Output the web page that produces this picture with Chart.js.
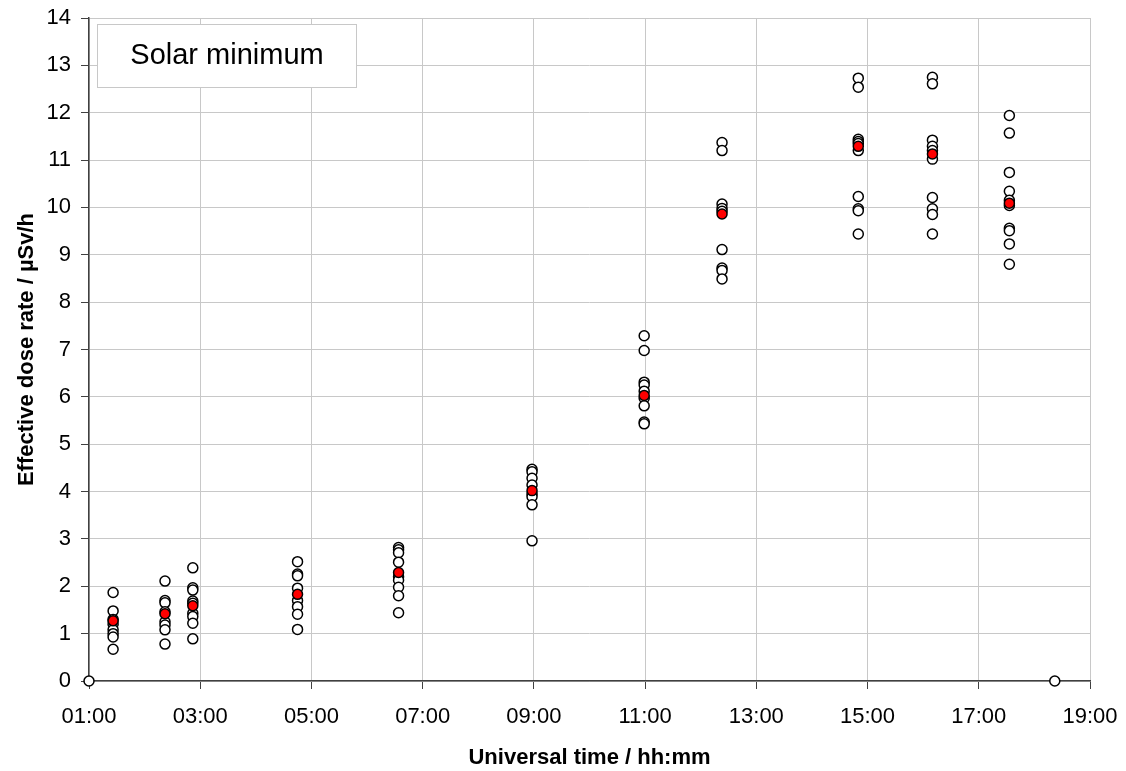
<!DOCTYPE html>
<html>
<head>
<meta charset="utf-8">
<script src="https://cdn.jsdelivr.net/npm/chart.js@4"></script>
<style>
  html, body { margin: 0; padding: 0; background: #fff; }
  #wrap { width: 1126px; height: 771px; }
</style>
</head>
<body>
<div id="wrap"><canvas id="doseChart" width="1126" height="771"></canvas></div>
<script>
// flight times (UT) and the single measurements at each time
var flightTimes = ['01:26', '02:22', '02:52', '04:45', '06:34', '08:58', '10:59', '12:23', '14:50', '16:10', '17:33'];
var meanDose = [1.27, 1.42, 1.59, 1.83, 2.29, 4.02, 6.03, 9.86, 11.29, 11.13, 10.09];
var doseValues = [
    [1.87, 1.48, 1.30, 1.20, 1.08, 1.00, 0.93, 0.67],
    [2.11, 1.70, 1.65, 1.46, 1.25, 1.18, 1.08, 0.78],
    [2.39, 1.97, 1.92, 1.69, 1.64, 1.43, 1.36, 1.22, 0.89],
    [2.52, 2.26, 2.22, 1.96, 1.70, 1.57, 1.41, 1.09],
    [2.82, 2.77, 2.71, 2.51, 2.20, 2.13, 1.98, 1.80, 1.44],
    [4.47, 4.42, 4.28, 4.14, 3.95, 3.89, 3.72, 2.96],
    [7.29, 6.98, 6.31, 6.25, 6.12, 5.97, 5.81, 5.47, 5.43],
    [11.37, 11.20, 10.07, 9.98, 9.92, 9.11, 8.72, 8.67, 8.49],
    [12.73, 12.54, 11.44, 11.39, 11.35, 11.20, 10.23, 9.97, 9.93, 9.44],
    [12.75, 12.61, 11.42, 11.29, 11.20, 11.02, 10.21, 9.97, 9.85, 9.44],
    [11.94, 11.57, 10.74, 10.34, 10.15, 10.04, 9.56, 9.51, 9.23, 8.80]
];
var zeroTimes = ['01:00', '18:22'];
var zeroValues = [0, 0];
var xTicks = ['01:00', '03:00', '05:00', '07:00', '09:00', '11:00', '13:00', '15:00', '17:00', '19:00'];
var boxLabel = 'Solar minimum';

function toHours(t) {
    var p = t.split(':');
    return parseInt(p[0], 10) + parseInt(p[1], 10) / 60;
}

var singlePoints = [];
flightTimes.forEach(function(t, i) {
    doseValues[i].forEach(function(v) {
        singlePoints.push({ x: toHours(t), y: v });
    });
});
zeroTimes.forEach(function(t, i) {
    singlePoints.push({ x: toHours(t), y: zeroValues[i] });
});
var meanPoints = flightTimes.map(function(t, i) {
    return { x: toHours(t), y: meanDose[i] };
});

var labelBox = {
    id: 'labelBox',
    afterDraw: function(chart) {
        var ctx = chart.ctx;
        ctx.save();
        ctx.fillStyle = '#ffffff';
        ctx.fillRect(97.5, 24.5, 259, 63);
        ctx.strokeStyle = '#c8c8c8';
        ctx.lineWidth = 1;
        ctx.strokeRect(97.5, 24.5, 259, 63);
        ctx.fillStyle = '#000';
        ctx.font = '29px "Liberation Sans", Arial, sans-serif';
        ctx.textAlign = 'center';
        ctx.textBaseline = 'middle';
        ctx.fillText(boxLabel, 227, 56);
        ctx.restore();
    }
};

Chart.defaults.font.family = '"Liberation Sans", Arial, sans-serif';
Chart.defaults.color = '#000';

var ctx = document.getElementById('doseChart').getContext('2d');
var doseChart = new Chart(ctx, {
    type: 'scatter',
    data: {
        datasets: [
            {
                label: 'Mean',
                data: meanPoints,
                clip: false,
                pointRadius: 5,
                pointBorderWidth: 1.5,
                pointBackgroundColor: '#ff0000',
                pointBorderColor: '#000'
            },
            {
                label: 'Single flights',
                data: singlePoints,
                clip: false,
                pointRadius: 5,
                pointBorderWidth: 1.5,
                pointBackgroundColor: '#ffffff',
                pointBorderColor: '#000'
            }
        ]
    },
    options: {
        responsive: false,
        animation: false,
        layout: { padding: { top: 18, right: 36, left: 0, bottom: 0 } },
        plugins: {
            legend: { display: false },
            tooltip: { enabled: false }
        },
        scales: {
            x: {
                type: 'linear',
                min: 1,
                max: 19,
                afterBuildTicks: function(axis) {
                    axis.ticks = xTicks.map(function(t) { return { value: toHours(t) }; });
                },
                ticks: {
                    font: { size: 22 },
                    padding: 15,
                    maxRotation: 0,
                    callback: function(value) {
                        var h = Math.round(value);
                        return (h < 10 ? '0' : '') + h + ':00';
                    }
                },
                grid: { color: '#c8c8c8', tickColor: '#404040', tickLength: 8 },
                border: { color: '#404040', width: 1.5 },
                title: {
                    display: true,
                    text: 'Universal time / hh:mm',
                    font: { size: 22, weight: 'bold' },
                    padding: { top: 0, bottom: 0 }
                },
                afterFit: function(axis) {
                    axis.height = 90;
                    axis.paddingLeft = 0;
                    axis.paddingRight = 0;
                }
            },
            y: {
                min: 0,
                max: 14,
                ticks: {
                    stepSize: 1,
                    font: { size: 22 },
                    padding: 10
                },
                grid: { color: '#c8c8c8', tickColor: '#404040', tickLength: 8 },
                border: { color: '#404040', width: 1.5 },
                title: {
                    display: true,
                    text: 'Effective dose rate / µSv/h',
                    font: { size: 22, weight: 'bold' },
                    padding: { top: 14, bottom: 0 }
                },
                afterFit: function(axis) {
                    axis.width = 89;
                    axis.paddingTop = 0;
                    axis.paddingBottom = 0;
                }
            }
        }
    },
    plugins: [labelBox]
});
</script>
</body>
</html>
